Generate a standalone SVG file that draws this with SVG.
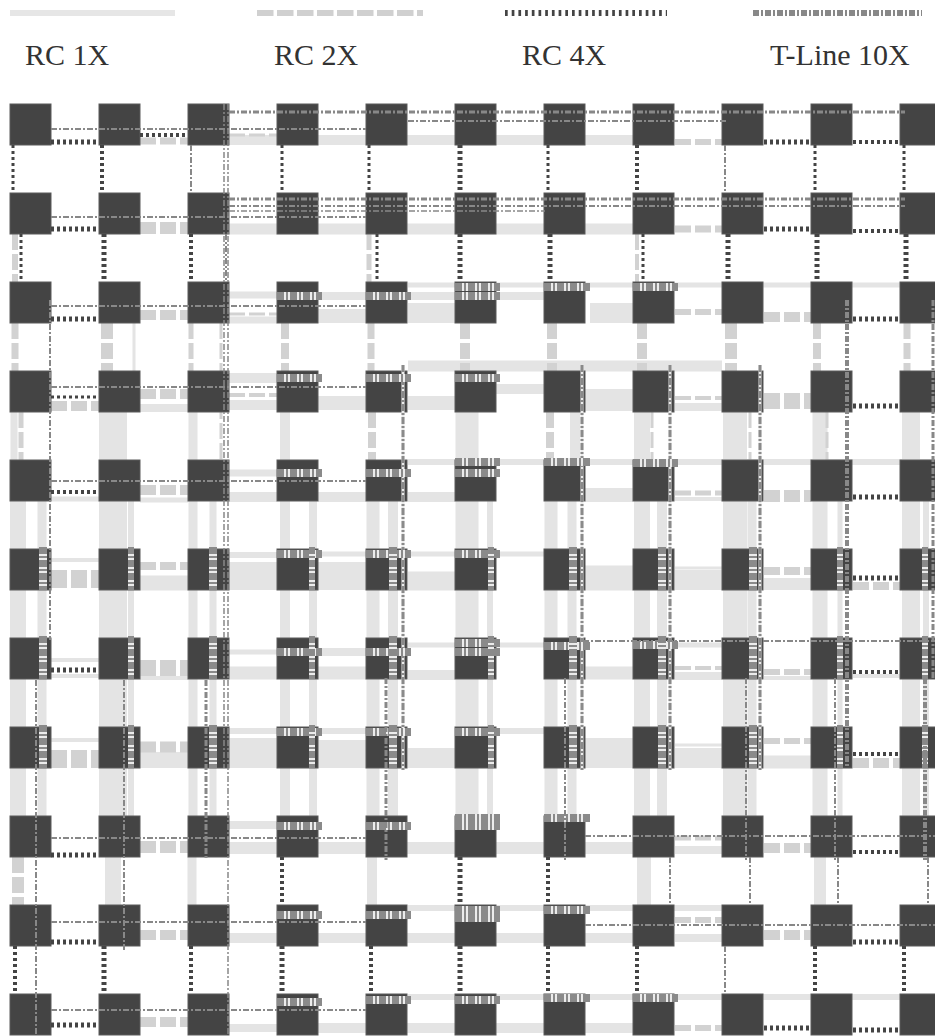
<svg xmlns="http://www.w3.org/2000/svg" xmlns:xlink="http://www.w3.org/1999/xlink" width="935" height="1036" viewBox="0 0 935 1036">
<style>
.a{fill:none;stroke:#e4e4e4}
.b{fill:none;stroke:#d2d2d2;stroke-dasharray:16 4}
.c{fill:none;stroke:#444;stroke-dasharray:3 3}
.d{fill:none;stroke:#888;stroke-dasharray:6 2 2 2}
.bb{fill:none;stroke:#ececec}
.bg{fill:none;stroke:#8a8a8a;stroke-dasharray:7 2 2 2}
.n rect{fill:#444;stroke:#5a5a5a;stroke-width:1}
.lbl{font-family:"Liberation Serif","Times New Roman",serif;font-size:30px;fill:#333}
</style>
<defs>
<path id="hbars" d="M277 296H322M366 296H411M455 287H500M455 296H500M544 287H590M633 287H678M277 378H322M366 378H411M455 378H500M277 473H322M366 473H411M455 462H500M455 473H500M544 462H590M633 463H678M277 554H322M366 554H411M455 554H500M277 652H322M366 652H411M455 643H500M455 652H500M544 646H590M633 645H678M277 732H322M366 732H411M455 732H500M277 826H322M366 826H411M455 818H500M455 826H500M544 818H590M277 915H322M366 915H411M455 910H500M455 918H500M544 910H590M277 1002H322M366 1000H411M455 1000H500M544 998H590M633 998H678"/>
<path id="vbars8" d="M43 547V590M43 636V679M43 725V768M213 547V590M213 636V679M213 725V768M393 547V590M393 636V679M393 725V768M573 547V590M573 636V679M573 725V768M662 547V590M662 636V679M662 725V768M753 547V590M753 636V679M753 725V768"/>
<path id="vbars6" d="M131 547V590M131 636V679M131 725V768M312 547V590M312 636V679M312 725V768M491 547V590M491 636V679M491 725V768M840 547V590M840 636V679M840 725V768M925 547V590M925 636V679M925 725V768"/>
<path id="tbars" d="M403 365V770M582 365V770M670 365V770M760 365V770"/>
</defs>
<rect width="935" height="1036" fill="#fff"/>
<g id="legend">
<path d="M10 13H175" stroke="#e6e6e6" stroke-width="6" fill="none"/>
<path d="M257 13H423" stroke="#d0d0d0" stroke-width="6" fill="none" stroke-dasharray="16.5 3.5"/>
<path d="M505 13H667" stroke="#444" stroke-width="6" fill="none" stroke-dasharray="2.7 4"/>
<path d="M753 13H922" stroke="#888" stroke-width="6" fill="none" stroke-dasharray="6 2 2 2"/>
<text class="lbl" x="25" y="65">RC 1X</text>
<text class="lbl" x="274" y="65">RC 2X</text>
<text class="lbl" x="522" y="65">RC 4X</text>
<text class="lbl" x="770" y="65">T-Line 10X</text>
</g>
<g id="connectors">
<path class="a" stroke-width="3" d="M675 568H722M675 745H722M134 323V371"/>
<path class="a" stroke-width="4" d="M51 560H99M51 660H99M51 676H99M140 678H188M764 678H811M853 676H900M51 740H99M675 499H722"/>
<path class="a" stroke-width="5" d="M408 285H935M51 499H99M140 500H188M318 554H366M408 554H455M500 554H544M229 652H277M675 645H722M408 645H455M496 645H544M840 501V816"/>
<path class="a" stroke-width="6" d="M408 462H935M229 555H277M229 731H277M318 731H366M496 731H544M408 908H722M408 997H935M131 501V816M490 501V816M926 501V816"/>
<path class="a" stroke-width="7" d="M229 295H277M229 320H277M229 473H277M213 501V816M14 412V460"/>
<path class="a" stroke-width="8" d="M318 296H544M140 408H188M675 407H722M318 652H366M675 676H722M229 825H277M675 850H722M675 938H722M229 1028H277M313 501V816"/>
<path class="a" stroke-width="9" d="M42 501V816M193 412V816M572 501V816M752 501V816M192 857V905"/>
<path class="a" stroke-width="10" d="M229 140H633M229 378H277M229 405H277M496 389H544M229 497H277M318 497H366M408 497H455M408 675H455M229 938H277M318 938H633M318 1028H633M285 412V816M393 501V816M662 501V816M575 412V460M372 857V905"/>
<path class="a" stroke-width="11" d="M229 229H633M408 366H722"/>
<path class="a" stroke-width="12" d="M764 584H811M229 848H277M318 848H633M820 857V905"/>
<path class="a" stroke-width="13" d="M229 673H277M318 673H366M585 673H633M764 762H811M373 501V816M551 501V816"/>
<path class="a" stroke-width="14" d="M318 316H366M318 403H366M408 403H455M585 495H633M644 857V905"/>
<path class="a" stroke-width="15" d="M140 583H188M820 412V816"/>
<path class="a" stroke-width="16" d="M140 760H188M18 501V816M642 412V816M113 857V905"/>
<path class="a" stroke-width="18" d="M911 412V816"/>
<path class="a" stroke-width="19" d="M408 581H455"/>
<path class="a" stroke-width="20" d="M408 313H455M590 313H633M675 580H722M408 758H455M675 758H722"/>
<path class="a" stroke-width="22" d="M585 400H633"/>
<path class="a" stroke-width="23" d="M467 412V816"/>
<path class="a" stroke-width="24" d="M735 412V816"/>
<path class="a" stroke-width="25" d="M585 578H633"/>
<path class="a" stroke-width="28" d="M229 576H277M318 576H366M318 754H366M113 412V816"/>
<path class="a" stroke-width="30" d="M229 753H277M585 753H633"/>
<path class="b" stroke-width="3" d="M229 135H277M229 314H277M652 412V460M750 412V460M827 412V460M221 323V501"/>
<path class="b" stroke-width="4" d="M229 395H277M675 398H722M675 668H722M637 234V282"/>
<path class="b" stroke-width="5" d="M675 493H722M675 838H722M369 234V282M191 323V371M21 412V460"/>
<path class="b" stroke-width="6" d="M675 142H722M675 312H722M764 672H811M764 741H811M675 920H722M675 1028H722M15 234V282"/>
<path class="b" stroke-width="7" d="M140 141H188M675 229H722M15 323V371M371 323V371M907 323V371"/>
<path class="b" stroke-width="8" d="M140 566H188M764 571H811M853 586H900M285 323V371M817 323V371M372 412V460M550 412V460"/>
<path class="b" stroke-width="10" d="M140 315H188M764 317H811M51 406H99M140 394H188M140 490H188M853 763H900M764 848H811M140 935H188M764 935H811M140 1022H188M465 323V371M552 323V371M642 323V371"/>
<path class="b" stroke-width="11" d="M140 747H188"/>
<path class="b" stroke-width="12" d="M140 228H188M764 496H811M140 847H188M107 323V371M731 323V371M18 857V905"/>
<path class="b" stroke-width="16" d="M764 401H811M140 668H188"/>
<path class="b" stroke-width="18" d="M51 579H99M51 759H99"/>
</g>
<g id="nodes" class="n">
<g id="n0-0"><rect x="10" y="104" width="41" height="41"/></g>
<g id="n0-1"><rect x="99" y="104" width="41" height="41"/></g>
<g id="n0-2"><rect x="188" y="104" width="41" height="41"/></g>
<g id="n0-3"><rect x="277" y="104" width="41" height="41"/></g>
<g id="n0-4"><rect x="366" y="104" width="41" height="41"/></g>
<g id="n0-5"><rect x="455" y="104" width="41" height="41"/></g>
<g id="n0-6"><rect x="544" y="104" width="41" height="41"/></g>
<g id="n0-7"><rect x="633" y="104" width="41" height="41"/></g>
<g id="n0-8"><rect x="722" y="104" width="41" height="41"/></g>
<g id="n0-9"><rect x="811" y="104" width="41" height="41"/></g>
<g id="n0-10"><rect x="900" y="104" width="41" height="41"/></g>
<g id="n1-0"><rect x="10" y="193" width="41" height="41"/></g>
<g id="n1-1"><rect x="99" y="193" width="41" height="41"/></g>
<g id="n1-2"><rect x="188" y="193" width="41" height="41"/></g>
<g id="n1-3"><rect x="277" y="193" width="41" height="41"/></g>
<g id="n1-4"><rect x="366" y="193" width="41" height="41"/></g>
<g id="n1-5"><rect x="455" y="193" width="41" height="41"/></g>
<g id="n1-6"><rect x="544" y="193" width="41" height="41"/></g>
<g id="n1-7"><rect x="633" y="193" width="41" height="41"/></g>
<g id="n1-8"><rect x="722" y="193" width="41" height="41"/></g>
<g id="n1-9"><rect x="811" y="193" width="41" height="41"/></g>
<g id="n1-10"><rect x="900" y="193" width="41" height="41"/></g>
<g id="n2-0"><rect x="10" y="282" width="41" height="41"/></g>
<g id="n2-1"><rect x="99" y="282" width="41" height="41"/></g>
<g id="n2-2"><rect x="188" y="282" width="41" height="41"/></g>
<g id="n2-3"><rect x="277" y="282" width="41" height="41"/></g>
<g id="n2-4"><rect x="366" y="282" width="41" height="41"/></g>
<g id="n2-5"><rect x="455" y="282" width="41" height="41"/></g>
<g id="n2-6"><rect x="544" y="282" width="41" height="41"/></g>
<g id="n2-7"><rect x="633" y="282" width="41" height="41"/></g>
<g id="n2-8"><rect x="722" y="282" width="41" height="41"/></g>
<g id="n2-9"><rect x="811" y="282" width="41" height="41"/></g>
<g id="n2-10"><rect x="900" y="282" width="41" height="41"/></g>
<g id="n3-0"><rect x="10" y="371" width="41" height="41"/></g>
<g id="n3-1"><rect x="99" y="371" width="41" height="41"/></g>
<g id="n3-2"><rect x="188" y="371" width="41" height="41"/></g>
<g id="n3-3"><rect x="277" y="371" width="41" height="41"/></g>
<g id="n3-4"><rect x="366" y="371" width="41" height="41"/></g>
<g id="n3-5"><rect x="455" y="371" width="41" height="41"/></g>
<g id="n3-6"><rect x="544" y="371" width="41" height="41"/></g>
<g id="n3-7"><rect x="633" y="371" width="41" height="41"/></g>
<g id="n3-8"><rect x="722" y="371" width="41" height="41"/></g>
<g id="n3-9"><rect x="811" y="371" width="41" height="41"/></g>
<g id="n3-10"><rect x="900" y="371" width="41" height="41"/></g>
<g id="n4-0"><rect x="10" y="460" width="41" height="41"/></g>
<g id="n4-1"><rect x="99" y="460" width="41" height="41"/></g>
<g id="n4-2"><rect x="188" y="460" width="41" height="41"/></g>
<g id="n4-3"><rect x="277" y="460" width="41" height="41"/></g>
<g id="n4-4"><rect x="366" y="460" width="41" height="41"/></g>
<g id="n4-5"><rect x="455" y="460" width="41" height="41"/></g>
<g id="n4-6"><rect x="544" y="460" width="41" height="41"/></g>
<g id="n4-7"><rect x="633" y="460" width="41" height="41"/></g>
<g id="n4-8"><rect x="722" y="460" width="41" height="41"/></g>
<g id="n4-9"><rect x="811" y="460" width="41" height="41"/></g>
<g id="n4-10"><rect x="900" y="460" width="41" height="41"/></g>
<g id="n5-0"><rect x="10" y="549" width="41" height="41"/></g>
<g id="n5-1"><rect x="99" y="549" width="41" height="41"/></g>
<g id="n5-2"><rect x="188" y="549" width="41" height="41"/></g>
<g id="n5-3"><rect x="277" y="549" width="41" height="41"/></g>
<g id="n5-4"><rect x="366" y="549" width="41" height="41"/></g>
<g id="n5-5"><rect x="455" y="549" width="41" height="41"/></g>
<g id="n5-6"><rect x="544" y="549" width="41" height="41"/></g>
<g id="n5-7"><rect x="633" y="549" width="41" height="41"/></g>
<g id="n5-8"><rect x="722" y="549" width="41" height="41"/></g>
<g id="n5-9"><rect x="811" y="549" width="41" height="41"/></g>
<g id="n5-10"><rect x="900" y="549" width="41" height="41"/></g>
<g id="n6-0"><rect x="10" y="638" width="41" height="41"/></g>
<g id="n6-1"><rect x="99" y="638" width="41" height="41"/></g>
<g id="n6-2"><rect x="188" y="638" width="41" height="41"/></g>
<g id="n6-3"><rect x="277" y="638" width="41" height="41"/></g>
<g id="n6-4"><rect x="366" y="638" width="41" height="41"/></g>
<g id="n6-5"><rect x="455" y="638" width="41" height="41"/></g>
<g id="n6-6"><rect x="544" y="638" width="41" height="41"/></g>
<g id="n6-7"><rect x="633" y="638" width="41" height="41"/></g>
<g id="n6-8"><rect x="722" y="638" width="41" height="41"/></g>
<g id="n6-9"><rect x="811" y="638" width="41" height="41"/></g>
<g id="n6-10"><rect x="900" y="638" width="41" height="41"/></g>
<g id="n7-0"><rect x="10" y="727" width="41" height="41"/></g>
<g id="n7-1"><rect x="99" y="727" width="41" height="41"/></g>
<g id="n7-2"><rect x="188" y="727" width="41" height="41"/></g>
<g id="n7-3"><rect x="277" y="727" width="41" height="41"/></g>
<g id="n7-4"><rect x="366" y="727" width="41" height="41"/></g>
<g id="n7-5"><rect x="455" y="727" width="41" height="41"/></g>
<g id="n7-6"><rect x="544" y="727" width="41" height="41"/></g>
<g id="n7-7"><rect x="633" y="727" width="41" height="41"/></g>
<g id="n7-8"><rect x="722" y="727" width="41" height="41"/></g>
<g id="n7-9"><rect x="811" y="727" width="41" height="41"/></g>
<g id="n7-10"><rect x="900" y="727" width="41" height="41"/></g>
<g id="n8-0"><rect x="10" y="816" width="41" height="41"/></g>
<g id="n8-1"><rect x="99" y="816" width="41" height="41"/></g>
<g id="n8-2"><rect x="188" y="816" width="41" height="41"/></g>
<g id="n8-3"><rect x="277" y="816" width="41" height="41"/></g>
<g id="n8-4"><rect x="366" y="816" width="41" height="41"/></g>
<g id="n8-5"><rect x="455" y="816" width="41" height="41"/></g>
<g id="n8-6"><rect x="544" y="816" width="41" height="41"/></g>
<g id="n8-7"><rect x="633" y="816" width="41" height="41"/></g>
<g id="n8-8"><rect x="722" y="816" width="41" height="41"/></g>
<g id="n8-9"><rect x="811" y="816" width="41" height="41"/></g>
<g id="n8-10"><rect x="900" y="816" width="41" height="41"/></g>
<g id="n9-0"><rect x="10" y="905" width="41" height="41"/></g>
<g id="n9-1"><rect x="99" y="905" width="41" height="41"/></g>
<g id="n9-2"><rect x="188" y="905" width="41" height="41"/></g>
<g id="n9-3"><rect x="277" y="905" width="41" height="41"/></g>
<g id="n9-4"><rect x="366" y="905" width="41" height="41"/></g>
<g id="n9-5"><rect x="455" y="905" width="41" height="41"/></g>
<g id="n9-6"><rect x="544" y="905" width="41" height="41"/></g>
<g id="n9-7"><rect x="633" y="905" width="41" height="41"/></g>
<g id="n9-8"><rect x="722" y="905" width="41" height="41"/></g>
<g id="n9-9"><rect x="811" y="905" width="41" height="41"/></g>
<g id="n9-10"><rect x="900" y="905" width="41" height="41"/></g>
<g id="n10-0"><rect x="10" y="994" width="41" height="41"/></g>
<g id="n10-1"><rect x="99" y="994" width="41" height="41"/></g>
<g id="n10-2"><rect x="188" y="994" width="41" height="41"/></g>
<g id="n10-3"><rect x="277" y="994" width="41" height="41"/></g>
<g id="n10-4"><rect x="366" y="994" width="41" height="41"/></g>
<g id="n10-5"><rect x="455" y="994" width="41" height="41"/></g>
<g id="n10-6"><rect x="544" y="994" width="41" height="41"/></g>
<g id="n10-7"><rect x="633" y="994" width="41" height="41"/></g>
<g id="n10-8"><rect x="722" y="994" width="41" height="41"/></g>
<g id="n10-9"><rect x="811" y="994" width="41" height="41"/></g>
<g id="n10-10"><rect x="900" y="994" width="41" height="41"/></g>
</g>
<g id="connectors-top">
<use xlink:href="#tbars" class="bb" stroke-width="3"/>
<use xlink:href="#tbars" class="bg" stroke-width="3"/>
<use xlink:href="#hbars" class="bb" stroke-width="8"/>
<use xlink:href="#hbars" class="bg" stroke-width="8"/>
<use xlink:href="#vbars8" class="bb" stroke-width="8"/>
<use xlink:href="#vbars8" class="bg" stroke-width="8"/>
<use xlink:href="#vbars6" class="bb" stroke-width="6"/>
<use xlink:href="#vbars6" class="bg" stroke-width="6"/>
<path class="c" stroke-width="3" d="M51 397H99M13 145V193M282 145V193M369 145V193M548 145V193M815 145V193M904 145V193M21 234V282M377 234V282M643 234V282"/>
<path class="c" stroke-width="4" d="M140 135H188M853 142H900M853 231H900M51 492H99M853 672H900M853 754H900M853 852H900M102 145V193M637 145V193M191 234V282M282 857V905M548 857V905M15 946V994M191 946V994M371 946V994M548 946V994M637 946V994M815 946V994M904 946V994"/>
<path class="c" stroke-width="5" d="M51 142H99M764 142H811M51 229H99M764 229H811M51 319H99M853 319H900M853 406H900M853 497H900M853 578H900M51 670H99M51 855H99M51 942H99M853 942H900M51 1025H99M853 1030H900M764 1028H811M460 145V193M104 234V282M460 234V282M550 234V282M728 234V282M817 234V282M906 234V282M460 857V905M104 946V994M282 946V994M460 946V994"/>
<path class="d" stroke-width="1.5" d="M229 211H545M224 104V768M228 104V1035"/>
<path class="d" stroke-width="2" d="M51 129H366M408 121H727M51 217H366M229 206H905M51 306H366M51 387H366M51 481H366M583 641H935M51 838H366M585 836H935M51 922H366M585 925H935M51 1010H366M191 145V193M725 145V193M226 234V282M50 300V640M36 680V1035M124 680V950M565 678V860M746 678V860M835 678V860M670 857V905M750 857V905M838 857V905M928 857V905M725 946V994"/>
<path class="d" stroke-width="3" d="M229 112H905M229 199H905M206 680V860M386 678V860M933 300V680"/>
<path class="d" stroke-width="4" d="M847 300V768M925 678V860"/>
</g>
</svg>
